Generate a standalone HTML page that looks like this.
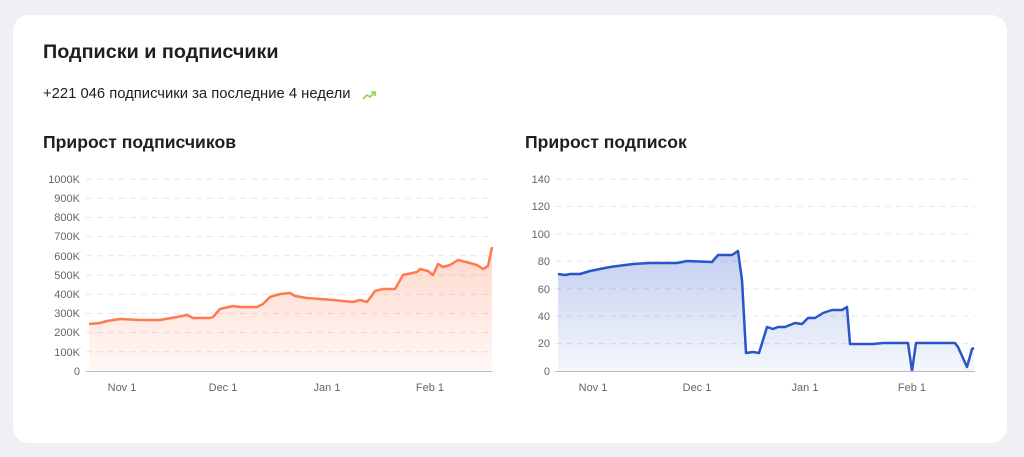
<!DOCTYPE html>
<html><head><meta charset="utf-8"><style>
body{margin:0;width:1024px;height:457px;background:#eef0f4;font-family:"Liberation Sans","DejaVu Sans",sans-serif;overflow:hidden;position:relative}
.card{position:absolute;left:13px;top:15px;width:994px;height:428px;background:#fff;border-radius:16px}
.t{position:absolute;color:#1f1f1f;white-space:nowrap}
</style></head><body>
<div class="card"></div>
<div class="t" style="left:43px;top:41px;font-size:19.8px;font-weight:bold">Подписки и подписчики</div>
<div class="t" style="left:43px;top:86px;font-size:14.8px">+221 046 подписчики за последние 4 недели</div>
<svg style="position:absolute;left:0;top:0" width="1024" height="457"><path d="M363 99 L367 95 L370 97 L375 92 M371 92 L375 92 L375 96" stroke="#8bd34a" stroke-width="1.6" fill="none"/></svg>
<div class="t" style="left:43px;top:132px;font-size:17.6px;font-weight:bold">Прирост подписчиков</div>
<div class="t" style="left:525px;top:132px;font-size:17.6px;font-weight:bold">Прирост подписок</div>
<svg style="position:absolute;left:0;top:0" width="1024" height="457" font-family="Liberation Sans, sans-serif" font-size="11" fill="#666">
<defs>
<linearGradient id="go" x1="0" y1="0" x2="0" y2="1"><stop offset="0" stop-color="#ff7a50" stop-opacity="0.3"/><stop offset="1" stop-color="#ff7a50" stop-opacity="0.05"/></linearGradient>
<linearGradient id="gb" x1="0" y1="0" x2="0" y2="1"><stop offset="0" stop-color="#2a55c8" stop-opacity="0.28"/><stop offset="1" stop-color="#2a55c8" stop-opacity="0.05"/></linearGradient>
</defs>
<g stroke="#e4e6ee" stroke-dasharray="6,5">
<line x1="86" x2="492" y1="179" y2="179"/><line x1="86" x2="492" y1="198.2" y2="198.2"/><line x1="86" x2="492" y1="217.4" y2="217.4"/><line x1="86" x2="492" y1="236.6" y2="236.6"/><line x1="86" x2="492" y1="255.8" y2="255.8"/><line x1="86" x2="492" y1="275" y2="275"/><line x1="86" x2="492" y1="294.2" y2="294.2"/><line x1="86" x2="492" y1="313.4" y2="313.4"/><line x1="86" x2="492" y1="332.6" y2="332.6"/><line x1="86" x2="492" y1="351.8" y2="351.8"/>
<line x1="555" x2="975" y1="179" y2="179"/><line x1="555" x2="975" y1="206.4" y2="206.4"/><line x1="555" x2="975" y1="233.9" y2="233.9"/><line x1="555" x2="975" y1="261.3" y2="261.3"/><line x1="555" x2="975" y1="288.7" y2="288.7"/><line x1="555" x2="975" y1="316.1" y2="316.1"/><line x1="555" x2="975" y1="343.6" y2="343.6"/>
</g>
<g text-anchor="end">
<text x="80" y="183">1000K</text><text x="80" y="202">900K</text><text x="80" y="221">800K</text><text x="80" y="240">700K</text><text x="80" y="260">600K</text><text x="80" y="279">500K</text><text x="80" y="298">400K</text><text x="80" y="317">300K</text><text x="80" y="336">200K</text><text x="80" y="356">100K</text><text x="80" y="375">0</text>
<text x="550" y="183">140</text><text x="550" y="210">120</text><text x="550" y="238">100</text><text x="550" y="265">80</text><text x="550" y="293">60</text><text x="550" y="320">40</text><text x="550" y="347">20</text><text x="550" y="375">0</text>
</g>
<g text-anchor="middle">
<text x="122" y="391">Nov 1</text><text x="223" y="391">Dec 1</text><text x="327" y="391">Jan 1</text><text x="430" y="391">Feb 1</text>
<text x="593" y="391">Nov 1</text><text x="697" y="391">Dec 1</text><text x="805" y="391">Jan 1</text><text x="912" y="391">Feb 1</text>
</g>
<path fill="url(#go)" d="M89 371 L89 324 L100 323 L107 321 L120 319 L140 320 L160 320 L177 317 L187 315 L193 318 L210 318 L213 317 L220 309 L233 306 L240 307 L257 307 L263 304 L270 297 L280 294 L290 293 L295 296 L307 298 L333 300 L353 302 L360 300 L367 302 L370 298 L375 291 L383 289 L395 289 L403 275 L417 272 L420 269 L428 271 L433 275 L438 264 L443 267 L450 265 L458 260 L470 263 L477 265 L483 269 L488 266 L492 247 L492 371 Z"/>
<path fill="none" stroke="#ff7a50" stroke-width="2.5" stroke-linejoin="round" d="M89 324 L100 323 L107 321 L120 319 L140 320 L160 320 L177 317 L187 315 L193 318 L210 318 L213 317 L220 309 L233 306 L240 307 L257 307 L263 304 L270 297 L280 294 L290 293 L295 296 L307 298 L333 300 L353 302 L360 300 L367 302 L370 298 L375 291 L383 289 L395 289 L403 275 L417 272 L420 269 L428 271 L433 275 L438 264 L443 267 L450 265 L458 260 L470 263 L477 265 L483 269 L488 266 L492 247"/>
<line x1="86" x2="492" y1="371.5" y2="371.5" stroke="#bbb"/>
<path fill="url(#gb)" d="M558 371 L558 274 L565 275 L570 274 L580 274 L590 271 L610 267 L633 264 L650 263 L677 263 L687 261 L712 262 L718 255 L732 255 L738 251 L742 280 L746 353 L753 352 L759 353 L767 327 L773 329 L778 327 L785 327 L795 323 L802 324 L808 318 L815 318 L823 313 L832 310 L842 310 L847 307 L850 344 L873 344 L883 343 L908 343 L912 371 L916 343 L955 343 L958 347 L967 367 L972 349 L974 348 L974 371 Z"/>
<path fill="none" stroke="#2a55c8" stroke-width="2.5" stroke-linejoin="round" d="M558 274 L565 275 L570 274 L580 274 L590 271 L610 267 L633 264 L650 263 L677 263 L687 261 L712 262 L718 255 L732 255 L738 251 L742 280 L746 353 L753 352 L759 353 L767 327 L773 329 L778 327 L785 327 L795 323 L802 324 L808 318 L815 318 L823 313 L832 310 L842 310 L847 307 L850 344 L873 344 L883 343 L908 343 L912 371 L916 343 L955 343 L958 347 L967 367 L972 349 L974 348"/>
<line x1="555" x2="975" y1="371.5" y2="371.5" stroke="#bbb"/>
</svg>
</body></html>
